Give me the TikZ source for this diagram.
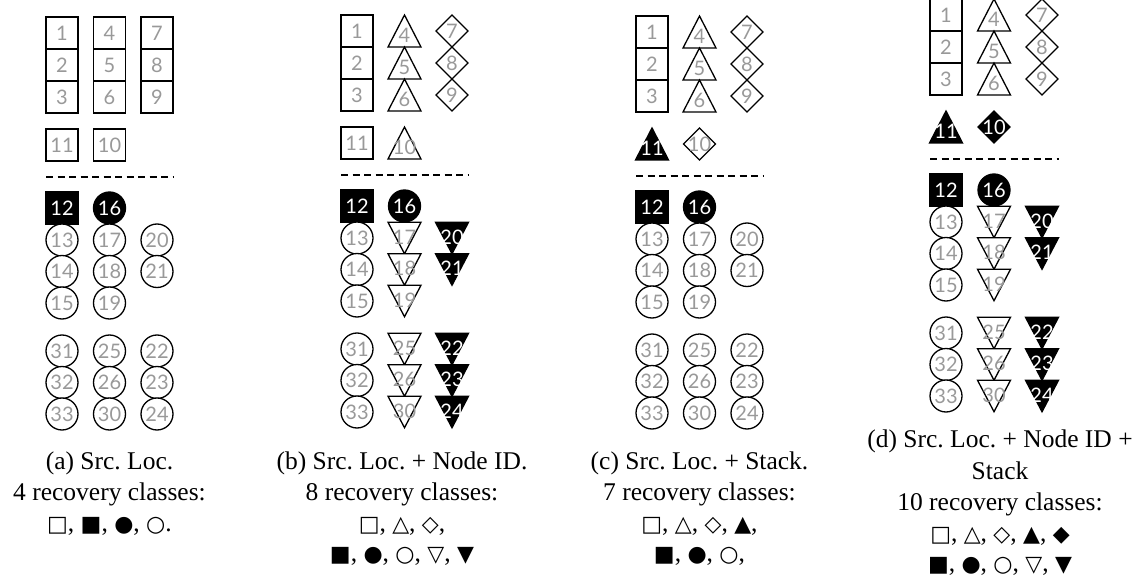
\documentclass[tikz,border=0pt]{standalone}
\usepackage{fontspec}
\setmainfont{Liberation Serif}
\newfontfamily\numfont{Lato}
\newfontfamily\symfont{DejaVu Sans}
\frenchspacing
\definecolor{numgray}{gray}{0.6}
\tikzset{
  shp/.style={draw=black, line width=1.3pt, fill=white, line join=miter},
  bshp/.style={draw=black, line width=1.3pt, fill=black, line join=miter},
  num/.style={font=\numfont\fontsize{20}{20}\selectfont, text=numgray, inner sep=0pt},
  wnum/.style={num, text=white},
  captxt/.style={font=\fontsize{25.5}{30}\selectfont, anchor=base, inner sep=0pt},
  sepline/.style={line width=1.3pt, dash pattern=on 7pt off 4.5pt}
}
\newcommand\sy[1]{{\symfont\fontsize{22}{22}\selectfont #1}}
\newcommand\Sq[4]{\draw[shp] ({#2-16},{#3-16}) rectangle ({#2+16},{#3+16}); \node[num] (#1) at ({#2},{#3}) {#4};}
\newcommand\BSq[4]{\draw[bshp] ({#2-16},{#3-16}) rectangle ({#2+16},{#3+16}); \node[wnum] (#1) at ({#2},{#3}) {#4};}
\newcommand\Ci[4]{\draw[shp] ({#2},{#3}) circle[radius=16]; \node[num] (#1) at ({#2},{#3}) {#4};}
\newcommand\BCi[4]{\draw[bshp] ({#2},{#3}) circle[radius=16]; \node[wnum] (#1) at ({#2},{#3}) {#4};}
\newcommand\Up[4]{\draw[shp] ({#2-16.5},{#3+16}) -- ({#2},{#3-16}) -- ({#2+16.5},{#3+16}) -- cycle; \node[num] (#1) at ({#2},{#3+4}) {#4};}
\newcommand\BUp[4]{\draw[bshp] ({#2-16.5},{#3+16}) -- ({#2},{#3-16}) -- ({#2+16.5},{#3+16}) -- cycle; \node[wnum] (#1) at ({#2},{#3+4}) {#4};}
\newcommand\Dn[4]{\draw[shp] ({#2-16.5},{#3-15.75}) -- ({#2+16.5},{#3-15.75}) -- ({#2},{#3+15.75}) -- cycle; \node[num] (#1) at ({#2},{#3-1}) {#4};}
\newcommand\BDn[4]{\draw[bshp] ({#2-16.5},{#3-15.75}) -- ({#2+16.5},{#3-15.75}) -- ({#2},{#3+15.75}) -- cycle; \node[wnum] (#1) at ({#2},{#3-1}) {#4};}
\newcommand\Di[4]{\draw[shp] ({#2},{#3-16}) -- ({#2+16},{#3}) -- ({#2},{#3+16}) -- ({#2-16},{#3}) -- cycle; \node[num] (#1) at ({#2},{#3}) {#4};}
\newcommand\BDi[4]{\draw[bshp] ({#2},{#3-16}) -- ({#2+16},{#3}) -- ({#2},{#3+16}) -- ({#2-16},{#3}) -- cycle; \node[wnum] (#1) at ({#2},{#3}) {#4};}
\begin{document}
\begin{tikzpicture}[x=1pt,y=-1pt]
\useasboundingbox[fill=white] (0,0) rectangle (1134,577);
% ---------------- Panel (a)
\def\ca{62}\def\cb{109.5}\def\cc{157}\def\T{17}
\Sq{a1}{\ca}{\T+16}{1}\Sq{a2}{\ca}{\T+48}{2}\Sq{a3}{\ca}{\T+80}{3}
\Sq{a4}{\cb}{\T+16}{4}\Sq{a5}{\cb}{\T+48}{5}\Sq{a6}{\cb}{\T+80}{6}
\Sq{a7}{\cc}{\T+16}{7}\Sq{a8}{\cc}{\T+48}{8}\Sq{a9}{\cc}{\T+80}{9}
\Sq{a11}{\ca}{\T+128}{11}\Sq{a10}{\cb}{\T+128}{10}
\coordinate (aL) at ({\ca-16},{\T+160}); \coordinate (aR) at ({\cc+17},{\T+160});
\draw[sepline] (aL) -- (aR);
\BSq{a12}{\ca}{\T+191}{12}\BCi{a16}{\cb}{\T+191}{16}
\Ci{a13}{\ca}{\T+223}{13}\Ci{a14}{\ca}{\T+254.5}{14}\Ci{a15}{\ca}{\T+286}{15}
\Ci{a17}{\cb}{\T+223}{17}\Ci{a18}{\cb}{\T+254.5}{18}\Ci{a19}{\cb}{\T+286}{19}
\Ci{a20}{\cc}{\T+223}{20}\Ci{a21}{\cc}{\T+254.5}{21}
\Ci{a31}{\ca}{\T+334}{31}\Ci{a32}{\ca}{\T+365.5}{32}\Ci{a33}{\ca}{\T+397}{33}
\Ci{a25}{\cb}{\T+334}{25}\Ci{a26}{\cb}{\T+365.5}{26}\Ci{a30}{\cb}{\T+397}{30}
\Ci{a22}{\cc}{\T+334}{22}\Ci{a23}{\cc}{\T+365.5}{23}\Ci{a24}{\cc}{\T+397}{24}
\node[captxt] (acap1) at (\cb,469) {(a) Src. Loc.};
\node[captxt] (acap2) at (\cb,500) {4 recovery classes:};
\node[captxt] (acap3) at (\cb,531) {\sy{□}, \sy{■}, \sy{●}, \sy{○}.};
% ---------------- Panel (b)
\def\ca{357}\def\cb{404.5}\def\cc{452}\def\T{15}
\Sq{b1}{\ca}{\T+16}{1}\Sq{b2}{\ca}{\T+48}{2}\Sq{b3}{\ca}{\T+80}{3}
\Up{b4}{\cb}{\T+16}{4}\Up{b5}{\cb}{\T+48}{5}\Up{b6}{\cb}{\T+80}{6}
\Di{b7}{\cc}{\T+16}{7}\Di{b8}{\cc}{\T+48}{8}\Di{b9}{\cc}{\T+80}{9}
\Sq{b11}{\ca}{\T+128}{11}\Up{b10}{\cb}{\T+128}{10}
\coordinate (bL) at ({\ca-16},{\T+160}); \coordinate (bR) at ({\cc+17},{\T+160});
\draw[sepline] (bL) -- (bR);
\BSq{b12}{\ca}{\T+191}{12}\BCi{b16}{\cb}{\T+191}{16}
\Ci{b13}{\ca}{\T+223}{13}\Ci{b14}{\ca}{\T+254.5}{14}\Ci{b15}{\ca}{\T+286}{15}
\Dn{b17}{\cb}{\T+223}{17}\Dn{b18}{\cb}{\T+254.5}{18}\Dn{b19}{\cb}{\T+286}{19}
\BDn{b20}{\cc}{\T+223}{20}\BDn{b21}{\cc}{\T+254.5}{21}
\Ci{b31}{\ca}{\T+334}{31}\Ci{b32}{\ca}{\T+365.5}{32}\Ci{b33}{\ca}{\T+397}{33}
\Dn{b25}{\cb}{\T+334}{25}\Dn{b26}{\cb}{\T+365.5}{26}\Dn{b30}{\cb}{\T+397}{30}
\BDn{b22}{\cc}{\T+334}{22}\BDn{b23}{\cc}{\T+365.5}{23}\BDn{b24}{\cc}{\T+397}{24}
\node[captxt] (bcap1) at (402,469) {(b) Src. Loc. + Node ID.};
\node[captxt] (bcap2) at (402,500) {8 recovery classes:};
\node[captxt] (bcap3) at (402,531) {\sy{□}, \sy{△}, \sy{◇},};
\node[captxt] (bcap4) at (402,561) {\sy{■}, \sy{●}, \sy{○}, \sy{▽}, \sy{▼}};
% ---------------- Panel (c)
\def\ca{652}\def\cb{699.5}\def\cc{747}\def\T{16}
\Sq{c1}{\ca}{\T+16}{1}\Sq{c2}{\ca}{\T+48}{2}\Sq{c3}{\ca}{\T+80}{3}
\Up{c4}{\cb}{\T+16}{4}\Up{c5}{\cb}{\T+48}{5}\Up{c6}{\cb}{\T+80}{6}
\Di{c7}{\cc}{\T+16}{7}\Di{c8}{\cc}{\T+48}{8}\Di{c9}{\cc}{\T+80}{9}
\BUp{c11}{\ca}{\T+128}{11}\Di{c10}{\cb}{\T+128}{10}
\coordinate (cL) at ({\ca-16},{\T+160}); \coordinate (cR) at ({\cc+17},{\T+160});
\draw[sepline] (cL) -- (cR);
\BSq{c12}{\ca}{\T+191}{12}\BCi{c16}{\cb}{\T+191}{16}
\Ci{c13}{\ca}{\T+223}{13}\Ci{c14}{\ca}{\T+254.5}{14}\Ci{c15}{\ca}{\T+286}{15}
\Ci{c17}{\cb}{\T+223}{17}\Ci{c18}{\cb}{\T+254.5}{18}\Ci{c19}{\cb}{\T+286}{19}
\Ci{c20}{\cc}{\T+223}{20}\Ci{c21}{\cc}{\T+254.5}{21}
\Ci{c31}{\ca}{\T+334}{31}\Ci{c32}{\ca}{\T+365.5}{32}\Ci{c33}{\ca}{\T+397}{33}
\Ci{c25}{\cb}{\T+334}{25}\Ci{c26}{\cb}{\T+365.5}{26}\Ci{c30}{\cb}{\T+397}{30}
\Ci{c22}{\cc}{\T+334}{22}\Ci{c23}{\cc}{\T+365.5}{23}\Ci{c24}{\cc}{\T+397}{24}
\node[captxt] (ccap1) at (\cb,469) {(c) Src. Loc. + Stack.};
\node[captxt] (ccap2) at (\cb,500) {7 recovery classes:};
\node[captxt] (ccap3) at (\cb,531) {\sy{□}, \sy{△}, \sy{◇}, \sy{▲},};
\node[captxt] (ccap4) at (\cb,561) {\sy{■}, \sy{●}, \sy{○},};
% ---------------- Panel (d)
\def\ca{946}\def\cb{994}\def\cc{1042}\def\T{-1}
\Sq{d1}{\ca}{\T+16}{1}\Sq{d2}{\ca}{\T+48}{2}\Sq{d3}{\ca}{\T+80}{3}
\Up{d4}{\cb}{\T+16}{4}\Up{d5}{\cb}{\T+48}{5}\Up{d6}{\cb}{\T+80}{6}
\Di{d7}{\cc}{\T+16}{7}\Di{d8}{\cc}{\T+48}{8}\Di{d9}{\cc}{\T+80}{9}
\BUp{d11}{\ca}{\T+128}{11}\BDi{d10}{\cb}{\T+128}{10}
\coordinate (dL) at ({\ca-16},{\T+160}); \coordinate (dR) at ({\cc+17},{\T+160});
\draw[sepline] (dL) -- (dR);
\BSq{d12}{\ca}{\T+191}{12}\BCi{d16}{\cb}{\T+191}{16}
\Ci{d13}{\ca}{\T+223}{13}\Ci{d14}{\ca}{\T+254.5}{14}\Ci{d15}{\ca}{\T+286}{15}
\Dn{d17}{\cb}{\T+223}{17}\Dn{d18}{\cb}{\T+254.5}{18}\Dn{d19}{\cb}{\T+286}{19}
\BDn{d20}{\cc}{\T+223}{20}\BDn{d21}{\cc}{\T+254.5}{21}
\Ci{d31}{\ca}{\T+334}{31}\Ci{d32}{\ca}{\T+365.5}{32}\Ci{d33}{\ca}{\T+397}{33}
\Dn{d25}{\cb}{\T+334}{25}\Dn{d26}{\cb}{\T+365.5}{26}\Dn{d30}{\cb}{\T+397}{30}
\BDn{d22}{\cc}{\T+334}{22}\BDn{d23}{\cc}{\T+365.5}{23}\BDn{d24}{\cc}{\T+397}{24}
\node[captxt] (dcap1) at (1000,447) {(d) Src. Loc. + Node ID +};
\node[captxt] (dcap2) at (1000,479) {Stack};
\node[captxt] (dcap3) at (1000,510) {10 recovery classes:};
\node[captxt] (dcap4) at (1000,541) {\sy{□}, \sy{△}, \sy{◇}, \sy{▲}, \sy{◆}};
\node[captxt] (dcap5) at (1000,571) {\sy{■}, \sy{●}, \sy{○}, \sy{▽}, \sy{▼}};
\end{tikzpicture}
\end{document}
